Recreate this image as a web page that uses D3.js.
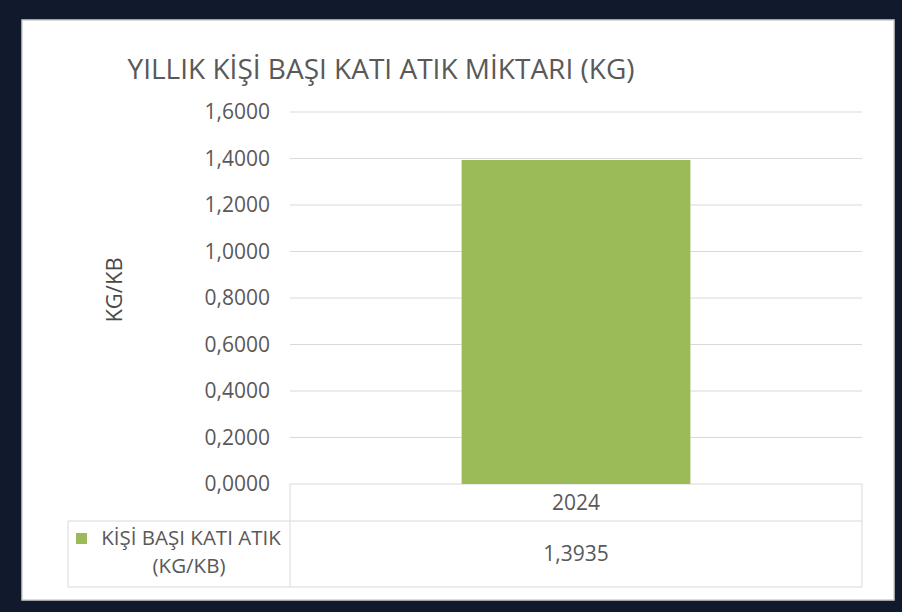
<!DOCTYPE html>
<html lang="tr">
<head>
<meta charset="UTF-8">
<title>Yıllık Kişi Başı Katı Atık Miktarı</title>
<script src="https://d3js.org/d3.v7.min.js"></script>
<style>
  body { margin: 0; background: #111a2c; }
  svg { display: block; font-family: "Open Sans", sans-serif; }
</style>
</head>
<body>
<div id="chart"></div>
<script>
// chart data
const years = ["2024"];
const values = [1.3935];
const seriesName = ["KİŞİ BAŞI KATI ATIK", "(KG/KB)"];
const yTicks = [0, 0.2, 0.4, 0.6, 0.8, 1.0, 1.2, 1.4, 1.6];

const W = 902, H = 612;
const plot = { left: 290, right: 862, top: 112, bottom: 484 };
const fmt = v => v.toFixed(4).replace(".", ",");

const svg = d3.select("#chart").append("svg")
    .attr("width", W).attr("height", H);

svg.append("rect").attr("width", W).attr("height", H).attr("fill", "#111a2c");

// white card
svg.append("rect")
    .attr("x", 22).attr("y", 20).attr("width", 872).attr("height", 580)
    .attr("fill", "#ffffff").attr("stroke", "#d0d0d0").attr("stroke-width", 1.5);

const x = d3.scaleBand().domain(years).range([plot.left, plot.right]).paddingInner(0.6).paddingOuter(0.3);
const y = d3.scaleLinear().domain([0, 1.6]).range([plot.bottom, plot.top]);

// gridlines
svg.append("g").selectAll("line").data(yTicks).join("line")
    .attr("x1", plot.left).attr("x2", plot.right)
    .attr("y1", d => y(d)).attr("y2", d => y(d))
    .attr("stroke", "#d9d9d9").attr("stroke-width", 1);

// y axis labels
const yAxis = d3.axisLeft(y).tickValues(yTicks).tickFormat(fmt).tickSize(0).tickPadding(20);
const ya = svg.append("g").attr("transform", `translate(${plot.left},0)`).call(yAxis);
ya.select(".domain").remove();
ya.selectAll("text").attr("font-size", 21).attr("fill", "#595959")
    .attr("font-family", "Open Sans, sans-serif");

// bars
svg.append("g").selectAll("rect").data(values).join("rect")
    .attr("x", (d, i) => x(years[i]))
    .attr("width", x.bandwidth())
    .attr("y", d => y(d))
    .attr("height", d => y(0) - y(d))
    .attr("fill", "#9bbb59");

// title
svg.append("text")
    .attr("x", 381).attr("y", 79).attr("text-anchor", "middle")
    .attr("font-size", 28).attr("fill", "#595959")
    .text("YILLIK KİŞİ BAŞI KATI ATIK MİKTARI (KG)");

// y title
svg.append("text")
    .attr("transform", "translate(122,290) rotate(-90)")
    .attr("text-anchor", "middle").attr("font-size", 22).attr("fill", "#4a4a4a")
    .text("KG/KB");

// data table
const rowTop = 521, rowBottom = 587, tableLeft = 68;
const tbl = svg.append("g").attr("stroke", "#d9d9d9").attr("stroke-width", 1);
tbl.append("line").attr("x1", tableLeft).attr("x2", plot.right).attr("y1", rowTop).attr("y2", rowTop);
tbl.append("line").attr("x1", tableLeft).attr("x2", plot.right).attr("y1", rowBottom).attr("y2", rowBottom);
tbl.append("line").attr("x1", tableLeft).attr("x2", tableLeft).attr("y1", rowTop).attr("y2", rowBottom);
tbl.append("line").attr("x1", plot.left).attr("x2", plot.left).attr("y1", plot.bottom).attr("y2", rowBottom);
tbl.append("line").attr("x1", plot.right).attr("x2", plot.right).attr("y1", plot.bottom).attr("y2", rowBottom);

svg.append("g").selectAll("text").data(years).join("text")
    .attr("x", d => x(d) + x.bandwidth() / 2).attr("y", 510)
    .attr("text-anchor", "middle").attr("font-size", 21).attr("fill", "#595959")
    .text(d => d);

svg.append("g").selectAll("text").data(values).join("text")
    .attr("x", (d, i) => x(years[i]) + x.bandwidth() / 2).attr("y", 561)
    .attr("text-anchor", "middle").attr("font-size", 21).attr("fill", "#595959")
    .text(d => fmt(d));

// legend key
svg.append("rect").attr("x", 76).attr("y", 533).attr("width", 11).attr("height", 11).attr("fill", "#9bbb59");
svg.append("text").attr("x", 191).attr("y", 545).attr("text-anchor", "middle")
    .attr("font-size", 20.5).attr("fill", "#595959").text(seriesName[0]);
svg.append("text").attr("x", 189).attr("y", 573).attr("text-anchor", "middle")
    .attr("font-size", 20.5).attr("fill", "#595959").text(seriesName[1]);
</script>
</body>
</html>
